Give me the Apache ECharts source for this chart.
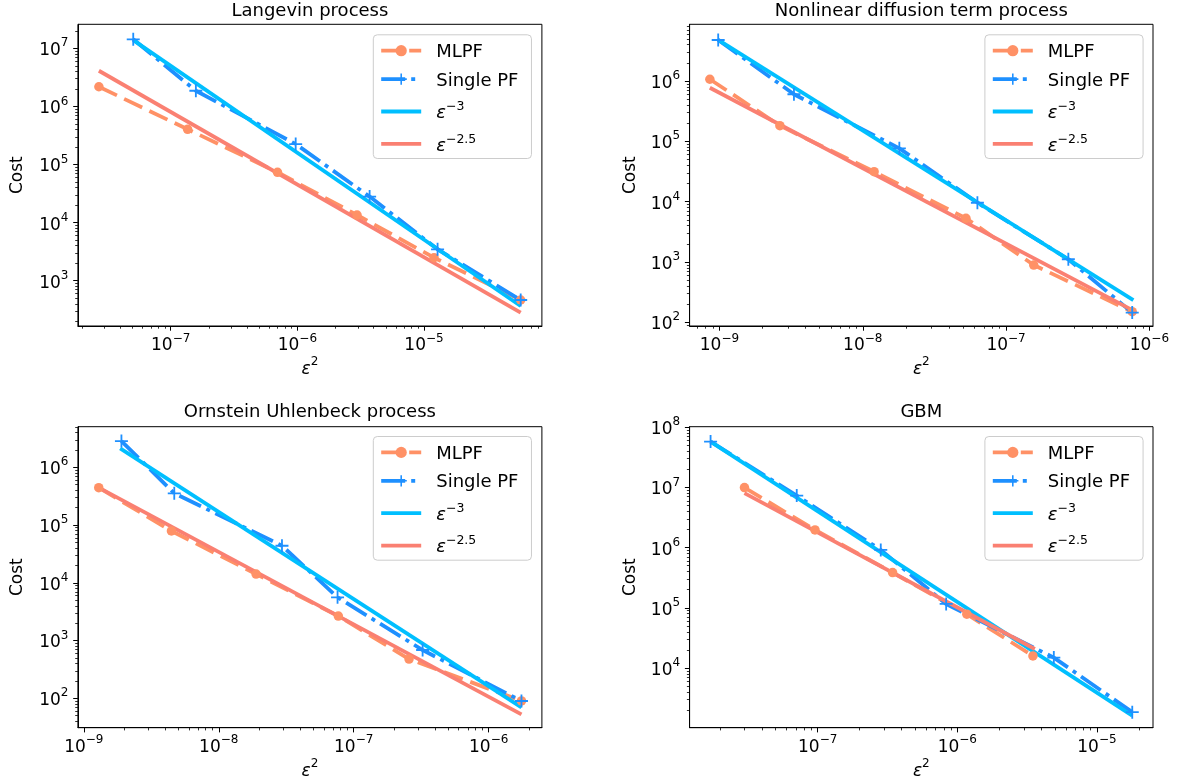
<!DOCTYPE html>
<html>
<head>
<meta charset="utf-8">
<script src="https://cdn.jsdelivr.net/npm/echarts@6/dist/echarts.min.js"></script>
<style>html,body{margin:0;padding:0;background:#fff}#c{width:1179px;height:783px}</style>
</head>
<body>
<div id="c"></div>
<script>
// ---------------- data ----------------
const TITLES = ['Langevin process', 'Nonlinear diffusion term process', 'Ornstein Uhlenbeck process', 'GBM'];
const SERIES_NAMES = ['MLPF', 'Single PF', 'eps3', 'eps25'];

// Langevin process
const langMlpfX = [2.71e-8, 1.36e-7, 6.97e-7, 2.96e-6, 1.2e-5, 5.8e-5];
const langMlpfY = [2.18e6, 4.04e5, 7.35e4, 1.35e4, 2.49e3, 465];
const langPfX = [5.06e-8, 1.58e-7, 9.7e-7, 3.72e-6, 1.28e-5, 5.8e-5];
const langPfY = [1.43e7, 1.86e6, 2.25e5, 2.8e4, 3.47e3, 465];
const langEps3X = [5.06e-8, 5.8e-5];
const langEps3Y = [1.38e7, 367];
const langEps25X = [2.71e-8, 5.8e-5];
const langEps25Y = [4.11e6, 281];
const langXTicks = [1e-7, 1e-6, 1e-5];
const langYTicks = [1e3, 1e4, 1e5, 1e6, 1e7];

// Nonlinear diffusion term process
const nonlMlpfX = [8.57e-10, 2.64e-9, 1.2e-8, 5.25e-8, 1.56e-7, 7.59e-7];
const nonlMlpfY = [1.07e6, 1.82e5, 3.14e4, 5.3e3, 891, 150];
const nonlPfX = [9.8e-10, 3.31e-9, 1.8e-8, 6.31e-8, 2.72e-7, 7.59e-7];
const nonlPfY = [4.79e6, 6.03e5, 7.66e4, 9.6e3, 1.11e3, 145];
const nonlEps3X = [9.8e-10, 7.73e-7];
const nonlEps3Y = [4.79e6, 234];
const nonlEps25X = [8.57e-10, 7.73e-7];
const nonlEps25Y = [7.74e5, 156];
const nonlXTicks = [1e-9, 1e-8, 1e-7, 1e-6];
const nonlYTicks = [1e2, 1e3, 1e4, 1e5, 1e6];

// Ornstein Uhlenbeck process
const ouMlpfX = [1.29e-9, 4.46e-9, 1.89e-8, 7.69e-8, 2.57e-7, 1.75e-6];
const ouMlpfY = [4.44e5, 7.9e4, 1.42e4, 2.66e3, 479, 90];
const ouPfX = [1.9e-9, 4.68e-9, 2.94e-8, 7.59e-8, 3.24e-7, 1.75e-6];
const ouPfY = [2.85e6, 3.55e5, 4.39e4, 5.6e3, 686, 90];
const ouEps3X = [1.86e-9, 1.75e-6];
const ouEps3Y = [2.13e6, 69.8];
const ouEps25X = [1.29e-9, 1.75e-6];
const ouEps25Y = [4.44e5, 52.8];
const ouXTicks = [1e-9, 1e-8, 1e-7, 1e-6];
const ouYTicks = [1e2, 1e3, 1e4, 1e5, 1e6];

// GBM
const gbmMlpfX = [2.99e-8, 9.57e-8, 3.44e-7, 1.17e-6, 3.48e-6];
const gbmMlpfY = [9.93e6, 1.97e6, 3.85e5, 7.83e4, 1.59e4];
const gbmPfX = [1.71e-8, 7.08e-8, 2.83e-7, 8.32e-7, 4.91e-6, 1.79e-5];
const gbmPfY = [5.77e7, 7.31e6, 9.16e5, 1.16e5, 1.49e4, 1.85e3];
const gbmEps3X = [1.71e-8, 1.79e-5];
const gbmEps3Y = [5.77e7, 1.62e3];
const gbmEps25X = [2.99e-8, 3.59e-6];
const gbmEps25Y = [8.02e6, 2.07e4];
const gbmXTicks = [1e-7, 1e-6, 1e-5];
const gbmYTicks = [1e4, 1e5, 1e6, 1e7, 1e8];

// ---------------- layout ----------------
const PLOTS = [
  {mx: langMlpfX, my: langMlpfY, px: langPfX, py: langPfY, e3x: langEps3X, e3y: langEps3Y, e25x: langEps25X, e25y: langEps25Y, xt: langXTicks, yt: langYTicks},
  {mx: nonlMlpfX, my: nonlMlpfY, px: nonlPfX, py: nonlPfY, e3x: nonlEps3X, e3y: nonlEps3Y, e25x: nonlEps25X, e25y: nonlEps25Y, xt: nonlXTicks, yt: nonlYTicks},
  {mx: ouMlpfX, my: ouMlpfY, px: ouPfX, py: ouPfY, e3x: ouEps3X, e3y: ouEps3Y, e25x: ouEps25X, e25y: ouEps25Y, xt: ouXTicks, yt: ouYTicks},
  {mx: gbmMlpfX, my: gbmMlpfY, px: gbmPfX, py: gbmPfY, e3x: gbmEps3X, e3y: gbmEps3Y, e25x: gbmEps25X, e25y: gbmEps25Y, xt: gbmXTicks, yt: gbmYTicks}
];
const LAYOUT = [
  {left: 77.9, top: 24.3, width: 464, height: 301.7, xr: [1.85e-8, 8.53e-5], yr: [166, 2.59e7], lgLeft: 373.3, lgTop: 34.8, yGap: 52, tTop: 2.5},
  {left: 689.6, top: 24.3, width: 463.4, height: 301.7, xr: [6.19e-10, 1.06e-6], yr: [86.9, 8.71e6], lgLeft: 984.9, lgTop: 34.8, yGap: 51, tTop: 2.5},
  {left: 77.9, top: 426.7, width: 464, height: 301, xr: [9.04e-10, 2.48e-6], yr: [31, 5.05e6], lgLeft: 373.3, lgTop: 436.5, yGap: 52, tTop: 403.5},
  {left: 689.6, top: 426.7, width: 463.4, height: 301, xr: [1.21e-8, 2.52e-5], yr: [1020, 1.02e8], lgLeft: 984.9, lgTop: 436.5, yGap: 51, tTop: 403.5}
];

const FONT = 'DejaVu Sans';
const C_MLPF = '#FF9166', C_PF = '#1E90FF', C_E3 = '#00BFFF', C_E25 = '#FA8072';
const LW = 3.8;
const PLUS = 'path://M-0.14,-1H0.14V-0.14H1V0.14H0.14V1H-0.14V0.14H-1V-0.14H-0.14Z';

function supText(e) { return e < 0 ? '\u2212' + (-e) : String(e); }
function logLabel(v) { return '{b|10}{s|' + supText(Math.round(Math.log10(v))) + '}'; }
function minorValues(lo, hi) {
  const out = [];
  for (let n = Math.floor(Math.log10(lo)); n <= Math.ceil(Math.log10(hi)); n++) {
    for (let k = 2; k <= 9; k++) {
      const v = k * Math.pow(10, n);
      if (v >= lo && v <= hi) out.push(v);
    }
  }
  return out;
}
function pairs(xs, ys) { return xs.map((x, i) => [x, ys[i]]); }

const labelRich = {
  b: {fontFamily: FONT, fontSize: 17, lineHeight: 22, verticalAlign: 'bottom', color: '#000'},
  s: {fontFamily: FONT, fontSize: 12, lineHeight: 12, verticalAlign: 'top', color: '#000'}
};
const nameRich = {
  e: {fontFamily: FONT, fontSize: 17, fontStyle: 'italic', lineHeight: 22, verticalAlign: 'bottom', color: '#000'},
  s: {fontFamily: FONT, fontSize: 12, lineHeight: 12, verticalAlign: 'top', color: '#000'}
};
const legendRich = {
  n: {fontFamily: FONT, fontSize: 18, lineHeight: 22, verticalAlign: 'bottom', color: '#000', padding: [0, 0, 0, 10]},
  e: {fontFamily: FONT, fontSize: 18, fontStyle: 'italic', lineHeight: 22, verticalAlign: 'bottom', color: '#000', padding: [0, 0, 0, 10]},
  s: {fontFamily: FONT, fontSize: 12.5, lineHeight: 12, verticalAlign: 'top', color: '#000'}
};
const LEGEND_TEXT = {
  'MLPF': '{n|MLPF}',
  'Single PF': '{n|Single PF}',
  'eps3': '{e|\u03b5}{s|\u22123}',
  'eps25': '{e|\u03b5}{s|\u22122.5}'
};
const LEGEND_DATA = SERIES_NAMES.map(n => (n === 'eps3' || n === 'eps25') ? {name: n, itemStyle: {opacity: 0}} : n);

const grid = [], xAxis = [], yAxis = [], series = [], legend = [], title = [];
LAYOUT.forEach((L, i) => {
  const P = PLOTS[i];
  grid.push({left: L.left, top: L.top, width: L.width, height: L.height, show: true, borderColor: '#000', borderWidth: 1, backgroundColor: '#fff'});
  title.push({text: TITLES[i], left: L.left + L.width / 2, top: L.tTop, textAlign: 'center', padding: 0,
    textStyle: {fontFamily: FONT, fontSize: 18, fontWeight: 'normal', color: '#000'}});
  // main x
  xAxis.push({type: 'log', logBase: 10, gridIndex: i, position: 'bottom', min: L.xr[0], max: L.xr[1],
    name: '{e|\u03b5}{s|2}', nameLocation: 'middle', nameGap: 30, nameTextStyle: {rich: nameRich},
    axisLine: {show: true, onZero: false, lineStyle: {color: '#000', width: 1}},
    axisTick: {show: true, customValues: P.xt, length: 4.7, lineStyle: {color: '#000', width: 1}},
    axisLabel: {customValues: P.xt, formatter: logLabel, rich: labelRich, margin: 6.5},
    splitLine: {show: false}, minorTick: {show: false}});
  // minor x
  xAxis.push({type: 'log', logBase: 10, gridIndex: i, position: 'bottom', min: L.xr[0], max: L.xr[1],
    axisLine: {show: false}, axisLabel: {show: false}, splitLine: {show: false},
    axisTick: {show: true, customValues: minorValues(L.xr[0], L.xr[1]), length: 2.7, lineStyle: {color: '#000', width: 0.8}}});
  // main y
  yAxis.push({type: 'log', logBase: 10, gridIndex: i, position: 'left', min: L.yr[0], max: L.yr[1],
    name: 'Cost', nameLocation: 'middle', nameGap: L.yGap, nameTextStyle: {fontFamily: FONT, fontSize: 17, color: '#000'},
    axisLine: {show: true, onZero: false, lineStyle: {color: '#000', width: 1}},
    axisTick: {show: true, customValues: P.yt, length: 4.7, lineStyle: {color: '#000', width: 1}},
    axisLabel: {customValues: P.yt, formatter: logLabel, rich: labelRich, margin: 9.5},
    splitLine: {show: false}, minorTick: {show: false}});
  // minor y
  yAxis.push({type: 'log', logBase: 10, gridIndex: i, position: 'left', min: L.yr[0], max: L.yr[1],
    axisLine: {show: false}, axisLabel: {show: false}, splitLine: {show: false},
    axisTick: {show: true, customValues: minorValues(L.yr[0], L.yr[1]), length: 2.7, lineStyle: {color: '#000', width: 0.8}}});

  const xi = 2 * i, yi = 2 * i;
  series.push({name: 'MLPF', type: 'line', xAxisIndex: xi, yAxisIndex: yi, data: pairs(P.mx, P.my),
    symbol: 'circle', symbolSize: 9.5, itemStyle: {color: C_MLPF, borderWidth: 0},
    lineStyle: {color: C_MLPF, width: LW, type: [20, 8]}, emphasis: {disabled: true}});
  series.push({name: 'Single PF', type: 'line', xAxisIndex: xi, yAxisIndex: yi, data: pairs(P.px, P.py),
    symbol: PLUS, symbolSize: 13, itemStyle: {color: C_PF, borderWidth: 0},
    lineStyle: {color: C_PF, width: LW, type: [24, 6, 4, 6]}, emphasis: {disabled: true}});
  series.push({name: 'eps3', type: 'line', xAxisIndex: xi, yAxisIndex: yi, data: pairs(P.e3x, P.e3y),
    symbol: 'none', itemStyle: {color: C_E3}, lineStyle: {color: C_E3, width: LW, type: 'solid'}, emphasis: {disabled: true}});
  series.push({name: 'eps25', type: 'line', xAxisIndex: xi, yAxisIndex: yi, data: pairs(P.e25x, P.e25y),
    symbol: 'none', itemStyle: {color: C_E25}, lineStyle: {color: C_E25, width: LW, type: 'solid'}, emphasis: {disabled: true}});

  legend.push({data: LEGEND_DATA, orient: 'vertical', left: L.lgLeft, top: L.lgTop, selectedMode: false,
    itemWidth: 40, itemHeight: 14, itemGap: 10.4, padding: [8.9, 13, 3.6, 6],
    backgroundColor: 'rgba(255,255,255,0.8)', borderColor: '#cccccc', borderWidth: 1, borderRadius: 4,
    lineStyle: {width: LW}, formatter: name => LEGEND_TEXT[name],
    textStyle: {fontFamily: FONT, fontSize: 18, color: '#000', rich: legendRich}});
});

const chart = echarts.init(document.getElementById('c'), null, {renderer: 'canvas'});
chart.setOption({animation: false, backgroundColor: '#fff', title, grid, xAxis, yAxis, series, legend, tooltip: {show: false}});
</script>
</body>
</html>
